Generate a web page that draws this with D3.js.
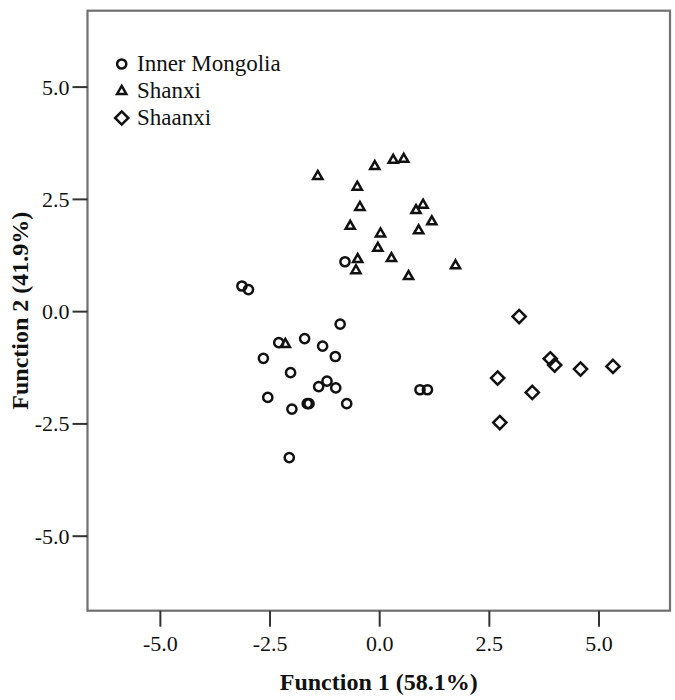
<!DOCTYPE html>
<html><head><meta charset="utf-8">
<script src="https://cdn.jsdelivr.net/npm/d3@7"></script>
<style>body{margin:0;background:#fff} svg{display:block}</style>
</head><body><svg id="chart" width="675" height="700"></svg>
<script>
const xTicks = [-5, -2.5, 0, 2.5, 5];
const xTickLabels = ["-5.0", "-2.5", "0.0", "2.5", "5.0"];
const yTicks = [-5, -2.5, 0, 2.5, 5];
const yTickLabels = ["-5.0", "-2.5", "0.0", "2.5", "5.0"];
const groups = ["Inner Mongolia", "Shanxi", "Shaanxi"];
const xTitle = "Function 1 (58.1%)";
const yTitle = "Function 2 (41.9%)";

const innerMongoliaX = [-0.78, -3.13, -2.98, -0.89, -1.70, -2.29, -1.29, -1.00, -2.64, -2.02, -1.19, -1.38, -0.99, -2.54, -1.64, -1.60, -0.74, -1.99, -2.05, 0.93, 1.10];
const innerMongoliaY = [1.10, 0.56, 0.48, -0.29, -0.61, -0.70, -0.78, -1.01, -1.05, -1.37, -1.56, -1.68, -1.71, -1.92, -2.06, -2.06, -2.06, -2.18, -3.26, -1.75, -1.75];
const shanxiX = [-1.40, -0.10, 0.32, 0.56, -0.50, -0.44, 0.84, 1.00, 1.20, -0.66, 0.03, 0.90, -0.03, 0.28, -0.49, -0.53, 0.67, 1.74, -2.14];
const shanxiY = [3.02, 3.24, 3.38, 3.40, 2.78, 2.33, 2.26, 2.38, 2.01, 1.91, 1.74, 1.81, 1.42, 1.19, 1.17, 0.92, 0.79, 1.03, -0.72];
const shaanxiX = [3.19, 3.90, 4.00, 4.59, 5.33, 2.70, 3.49, 2.75];
const shaanxiY = [-0.12, -1.06, -1.20, -1.29, -1.23, -1.49, -1.81, -2.48];

const L = 87.5, T = 10.7, R = 670, B = 610.7;
const x = d3.scaleLinear().domain([-6.65, 6.63]).range([L, R]);
const y = d3.scaleLinear().domain([-6.67, 6.69]).range([B, T]);
const font = "'Liberation Serif', 'Times New Roman', serif";
const ink = "#111";

const svg = d3.select("#chart");

// frame
svg.append("rect").attr("x", L).attr("y", T).attr("width", R - L).attr("height", B - T)
  .attr("fill", "none").attr("stroke", "#707070").attr("stroke-width", 2.2);

// axes
const gx = svg.append("g").attr("transform", `translate(0,${B})`)
  .call(d3.axisBottom(x).tickValues(xTicks).tickFormat((d, i) => xTickLabels[i]).tickSize(16));
gx.select(".domain").remove();
gx.selectAll("line").attr("stroke", "#333").attr("stroke-width", 2);
gx.selectAll("text").attr("y", 40).attr("dy", null)
  .style("font-family", font).style("font-size", "22px").attr("fill", ink);

const gy = svg.append("g").attr("transform", `translate(${L},0)`)
  .call(d3.axisLeft(y).tickValues(yTicks).tickFormat((d, i) => yTickLabels[i]).tickSize(15));
gy.select(".domain").remove();
gy.selectAll("line").attr("stroke", "#333").attr("stroke-width", 2);
gy.selectAll("text").attr("x", -18).attr("dy", "0.34em")
  .style("font-family", font).style("font-size", "22px").attr("fill", ink);

// titles
svg.append("text").attr("x", (L + R) / 2).attr("y", 690).attr("text-anchor", "middle")
  .style("font-family", font).style("font-size", "24px").style("font-weight", "bold")
  .attr("fill", ink).text(xTitle);
svg.append("text").attr("transform", `translate(28,${(T + B) / 2}) rotate(-90)`).attr("text-anchor", "middle")
  .style("font-family", font).style("font-size", "24px").style("font-weight", "bold")
  .attr("fill", ink).text(yTitle);

// marker shapes
const shapes = {
  circle: g => g.append("circle").attr("r", 4.6),
  triangle: g => g.append("path").attr("d", "M0,-4.6 L4.6,3.4 L-4.6,3.4 Z"),
  diamond: g => g.append("path").attr("d", "M0,-6.6 L6.6,0 L0,6.6 L-6.6,0 Z")
};
function marker(parent, shape, px, py) {
  const g = parent.append("g").attr("transform", `translate(${px},${py})`);
  shapes[shape](g).attr("fill", "none").attr("stroke", ink).attr("stroke-width", 2.5)
    .attr("stroke-linejoin", "miter");
  return g;
}

const pts = svg.append("g");
shanxiX.forEach((v, i) => marker(pts, "triangle", x(v), y(shanxiY[i])));
innerMongoliaX.forEach((v, i) => marker(pts, "circle", x(v), y(innerMongoliaY[i])));
shaanxiX.forEach((v, i) => marker(pts, "diamond", x(v), y(shaanxiY[i])));

// legend
const legendShapes = ["circle", "triangle", "diamond"];
const legendY = [64, 90.5, 118];
const lg = svg.append("g");
groups.forEach((name, i) => {
  marker(lg, legendShapes[i], 121.7, legendY[i]);
  lg.append("text").attr("x", 137).attr("y", legendY[i] + 7)
    .style("font-family", font).style("font-size", "23px").attr("fill", ink).text(name);
});
</script></body></html>
